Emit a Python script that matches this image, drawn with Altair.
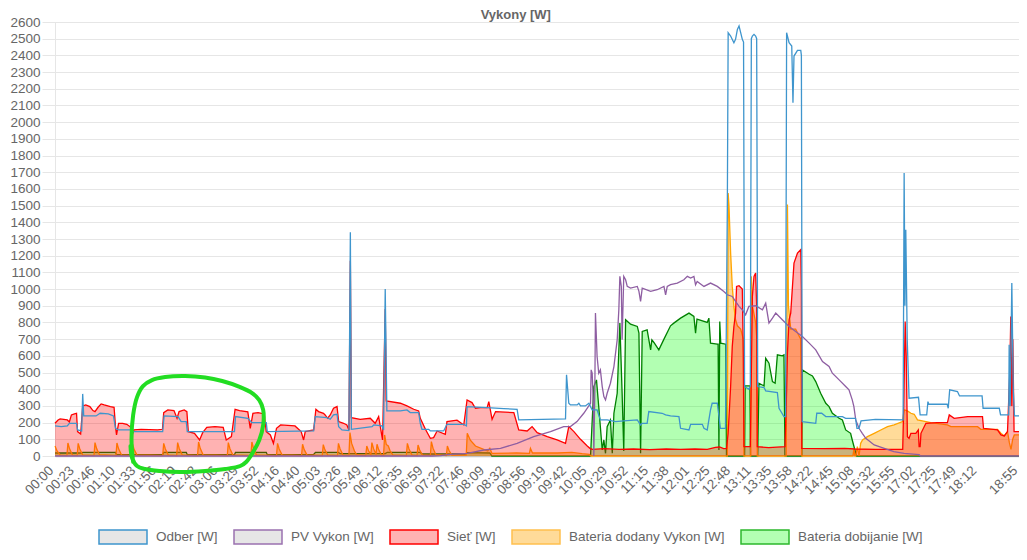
import altair as alt
import pandas as pd

# ---------------- data (x = sample index, 10 samples per axis label) ----------------
time_labels = ["00:00","00:23","00:46","01:10","01:33","01:56","02:19","02:42","03:06","03:29",
               "03:52","04:16","04:40","05:03","05:26","05:49","06:12","06:35","06:59","07:22",
               "07:46","08:09","08:32","08:56","09:19","09:42","10:05","10:29","10:52","11:15",
               "11:38","12:01","12:25","12:48","13:11","13:35","13:58","14:22","14:45","15:08",
               "15:32","15:55","17:02","17:25","17:49","18:12"]
last_label = "18:55"
last_index = 470

odber = [(0,180),(3,176),(6,180),(7,196),(10.5,196),(11,156),(13,150),(13.5,372),(14,240),(20,240),
         (22,256),(26,252),(28.5,240),(29.5,166),(31,156),(37,156),(38,146),(52.5,146),(53.2,240),(60,236),
         (61.5,206),(64,206),(64.5,146),(87.5,146),(88,236),(94,226),(96,200),(103,200),(103.5,146),(126.1,150),
         (126.9,236),(132.6,230),(134.2,220),(135.8,246),(137.5,250),(138.3,176),(139.9,156),(143.3,152),(144,1340),(144.5,160),
         (154.6,176),(155.4,186),(159.4,180),(160.2,156),(161,1000),(161.8,270),(168.4,270),(171.6,276),(173.2,260),(177.3,260),
         (178.1,196),(178.9,160),(182.2,160),(183,150),(189.5,150),(191.1,190),(199.3,190),(200.6,180),(200.9,296),(210.7,290),
         (218.8,284),(225.3,280),(226.1,216),(248.9,222),(249.4,486),(250.5,316),(251.3,306),(254.6,306),(255.4,316),(256.2,300),
         (258.6,300),(260.3,316),(261.1,296),(261.9,276),(264.3,276),(265.9,216),(269.2,216),(273.3,206),(277.3,210),(283.9,216),
         (285.5,186),(286.3,196),(288.7,196),(289.5,266),(296,256),(297.7,246),(300.1,240),(304.2,236),(305,166),(309.1,156),
         (309.9,190),(315.6,190),(316.4,166),(318,156),(319.6,276),(320.4,316),(322.9,316),(323.7,240),(324.4,166),(326.9,166),
         (327.8,1500),(328.2,2536),(329.4,2516),(331,2476),(331.8,2496),(332.7,2556),(333.5,2576),(334.3,2536),(335.1,2496),(335.7,2480),
         (336.2,416),(338.3,400),(339,420),(339.5,2500),(340,2516),(340.8,2526),(341.6,2516),(342.1,2500),(342.6,416),(345.7,410),
         (346.5,390),(352.2,380),(353,286),(355.4,236),(356.2,236),(356.7,2536),(357.9,2476),(359.2,2456),(359.8,2116),(360.3,2396),
         (362,2430),(363.6,2430),(363.9,2400),(364.3,206),(370.9,196),(371.4,256),(373.8,256),(375.8,236),(383.9,236),(385.5,226),
         (390.3,226),(391,166),(392,166),(393,210),(400,220),(413.5,216),(414,1696),(414.4,900),(414.8,1356),(415.5,700),
         (416.4,346),(421,352),(421.8,246),(425,246),(425.6,326),(426,310),(435,310),(435.5,286),(436.2,396),(440,386),
         (441,360),(452,360),(452.5,286),(460.4,286),(461,246),(465,246),(465.2,666),(465.7,300),(466.5,1036),(467.2,400),
         (467.8,240),(470,240)]

pv_vykon = [(0,0),(184,0),(188,2),(192.8,10),(201,16),(209.1,36),(217.2,46),(225.3,76),(233.4,116),(241.6,146),
            (248,176),(251.3,176),(254.5,206),(257.8,256),(261.1,316),(261.4,516),(261.9,496),(262.5,300),(262.7,0),(263.2,400),
            (263.5,856),(264.3,596),(265.1,496),(265.9,516),(266.8,416),(267.6,356),(268.4,336),(269.2,376),(270.8,436),(272.5,536),
            (273.3,616),(274.1,696),(274.9,876),(275.4,1076),(276.1,1016),(276.5,696),(277.3,1076),(278.2,1056),(279,1016),(280.6,1006),
            (283.9,1016),(284.7,986),(285.5,926),(286.3,1006),(290.4,986),(293.6,996),(296.9,1016),(297.7,966),(298.5,1016),(300.1,1026),
            (303.4,1036),(306.6,1056),(308.3,1076),(309.9,1066),(311.5,1076),(312.3,1026),(313.1,1046),(316.4,1016),(319.6,1036),(322.9,1016),
            (326.1,986),(327.8,966),(330.2,956),(331.8,926),(333.5,896),(335.1,876),(336.7,846),(338.3,896),(341.6,900),(344.9,876),
            (346.5,916),(348.1,796),(349.8,826),(351.4,856),(354.6,816),(357.9,776),(361.1,746),(364.4,716),(367.7,676),(370.9,636),
            (374.2,566),(377.4,536),(379,496),(382.3,456),(385.5,416),(387.1,396),(388.7,336),(389.5,296),(390.4,216),(392,166),
            (393.6,136),(395.3,106),(399.4,66),(404.3,46),(409,26),(414,16),(421.3,8),(422,0),(470,0)]

siet = [(0,196),(1.5,216),(2.5,222),(6,216),(7,204),(8,246),(9.5,252),(10.5,256),(11,146),(12.5,132),
        (13.5,300),(15,306),(17,296),(18.5,272),(19.5,266),(21,292),(22.5,312),(24,306),(27,296),(28.8,292),
        (29.5,176),(30,126),(31,196),(33,196),(35,190),(37,172),(37.8,132),(38.5,156),(42,160),(50,156),
        (52.4,160),(53,260),(55,276),(58,272),(59.5,226),(60.5,266),(63,276),(64.3,266),(65,146),(68,136),
        (70.5,96),(72,140),(74,172),(78,176),(82,172),(83.5,96),(86,116),(87.8,280),(90,272),(94,264),
        (95.2,166),(96.5,256),(99,260),(102,252),(103,146),(105,126),(106.5,76),(108,166),(110,186),(117,180),
        (120,146),(121.2,96),(122,146),(126.1,156),(127.2,280),(128.5,266),(130.9,256),(131.7,246),(132.9,226),(134.2,246),
        (135.8,286),(137.5,296),(138.3,206),(140.7,196),(142.3,186),(143.3,156),(144,1170),(144.5,230),(148.8,220),(153.7,226),
        (156.1,196),(157.8,236),(158.6,176),(159.7,96),(161,880),(161.5,330),(168.4,316),(171.6,300),(174.9,280),(177.3,270),
        (178.1,226),(180.6,160),(183,106),(184.6,110),(186.3,150),(190.3,130),(191.1,206),(196,215),(199.3,186),(200.9,336),
        (203.3,320),(205,286),(207.4,290),(210.7,290),(211.5,326),(213.1,220),(214.8,266),(223.7,260),(226.1,156),(230.2,150),
        (232.6,176),(235.1,140),(240,116),(244.8,96),(248.9,76),(250.5,176),(253,146),(256.2,100),(259.5,60),(260.8,46),
        (262,40),(268,44),(275,40),(282,42),(290,38),(298,42),(305,40),(312,42),(318,40),(322,52),
        (324,54),(326,44),(327.4,46),(328.2,136),(329.4,416),(330.2,656),(331,776),(331.8,856),(332.3,1016),(333.5,1020),
        (335.1,1000),(335.6,600),(335.9,56),(339,56),(339.5,500),(340,956),(340.8,1076),(341.6,1096),(342.1,900),(342.4,56),
        (348,50),(355.9,56),(356.7,400),(357.1,616),(357.9,816),(358.7,856),(360.3,1156),(362,1216),(363.6,1236),(363.9,1000),
        (364.1,46),(375,44),(385,46),(390,42),(400,40),(413.3,40),(413.8,300),(414.5,806),(415,600),(415.6,116),
        (416.4,106),(417.3,136),(419.7,136),(420.9,156),(421.3,56),(421.8,56),(422.2,136),(424.6,196),(430,200),(435.1,200),
        (436,246),(438.4,226),(445,236),(452.2,236),(452.7,166),(459.5,156),(461.2,126),(462.8,120),(464.4,146),(465.5,500),
        (466,836),(466.5,300),(467,700),(467.6,146),(470,146)]

bateria_dodany = [(0,60),(1,30),(2.5,6),(5.8,3),(6.3,78),(7.1,43),(8.5,7),(10.8,3),(11.3,76),(12.1,42),
                  (13.5,7),(19,3),(19.5,80),(20.3,44),(21.7,8),(29.7,3),(30.2,78),(31,43),(32.4,7),(37.3,3),
                  (37.8,70),(38.6,38),(40,6),(52.5,3),(53,76),(53.8,42),(55.2,7),(59.3,3),(59.8,80),(60.6,44),
                  (62,7),(69.5,3),(70,84),(70.8,46),(72.2,7),(84,3),(84.5,80),(85.3,44),(86.7,7),(95.5,3),
                  (96,84),(96.8,46),(98.2,7),(108,3),(108.5,76),(109.3,42),(110.7,7),(120.2,3),(120.7,70),(121.5,38),
                  (122.9,6),(130.3,3),(130.8,68),(131.6,37),(133,6),(137.7,3),(138.2,76),(139,42),(140.4,7),(143.3,3),
                  (143.8,140),(144.6,77),(146,30),(147,8),(151.5,3),(152,60),(152.8,33),(154,8),(154.5,80),(155.3,44),
                  (156.5,10),(157,70),(157.8,38),(159.2,6),(160.2,3),(160.7,126),(161.5,69),(162.5,60),(163.3,33),(164.7,7),
                  (171.3,3),(171.8,76),(172.6,42),(174,7),(176.5,3),(177,66),(177.8,36),(179.2,6),(183,3),(183.5,86),
                  (184.3,47),(185.7,8),(190.8,3),(191.3,60),(192.1,33),(193.5,6),(200.5,5),(201,136),(202.5,95),(205,60),
                  (209,40),(211,30),(212,46),(213,16),(225,18),(231.3,16),(231.8,46),(232.8,18),(245,18),(252,22),
                  (257,14),(260.5,10),(261.2,0),(327.8,0),(328.2,1576),(328.6,1500),(329.4,1216),(330.2,1016),(331,896),(331.8,816),
                  (332.7,780),(334.3,760),(335.6,700),(335.9,0),(339.2,0),(339.5,1076),(340,900),(341.6,800),(342.2,700),(342.4,0),
                  (356.5,0),(357.1,1506),(357.6,900),(358.7,760),(361.1,760),(363.6,700),(364.1,0),(389,0),(389.5,40),(390,0),
                  (390.4,0),(391.2,56),(392,0),(392.8,76),(393.7,96),(396.1,116),(399.4,136),(402.6,156),(405.9,176),(409.1,186),
                  (413.2,206),(414,276),(415.6,270),(417.3,256),(418.9,250),(420.5,216),(427,200),(435.1,186),(436.8,176),(449.8,176),
                  (451.4,160),(459.5,160),(461.2,136),(462.8,120),(464.4,146),(465.3,80),(466.1,40),(466.9,100),(467.7,126),(470,126)]

bateria_dobijanie = [(0,18),(13,18),(13.5,22),(29.5,22),(30,8),(52.5,8),(53,22),(64,22),(64.5,8),(87.5,8),
                     (88,22),(103,22),(103.5,8),(126,8),(127,22),(138,22),(139,14),(161,14),(162,22),(178,22),
                     (179,12),(200,12),(201,20),(212,18),(213,0),(261.1,0),(262.7,416),(264,456),(265.1,296),(266.8,36),
                     (267.6,96),(268.4,16),(269.2,176),(270.8,216),(271.7,16),(272.5,256),(274.1,376),(275.4,796),(276.5,376),(277.3,30),
                     (278.2,816),(280.6,790),(283.9,776),(284.7,736),(285.5,16),(286.3,746),(288.7,756),(290.4,636),(291,696),(292,680),
                     (294.4,636),(296.9,700),(300.1,780),(301.7,796),(305,826),(309.1,856),(311.5,836),(312.3,736),(313,820),(318,800),
                     (318.8,826),(319.6,676),(322.9,670),(323.3,670),(323.7,36),(324.1,806),(324.6,676),(327,670),(327.4,0),(336.2,0),
                     (336.5,420),(338.8,420),(339.1,0),(342.6,0),(343.2,436),(345.7,420),(346.5,586),(348.1,556),(349.8,446),(351.1,436),
                     (352.2,606),(354.6,600),(355.4,606),(355.9,0),(364.1,0),(364.4,516),(367.7,490),(369.3,480),(370.9,446),(373.3,376),
                     (375.8,316),(377.4,296),(379,256),(382.3,226),(383.9,216),(385.5,156),(387.9,136),(388.7,96),(390,36),(390.8,0),
                     (470,0)]

# hand-drawn green ring annotation (sample index, W)
ring = [(38.1,-36),(37.3,96),(38.1,246),(40,353),(42.9,419),(47.3,455),(53.7,473),(63.4,479),(73.2,470),(81.5,449),
        (90.3,413),(96.1,377),(99.6,335),(101.5,276),(101.5,186),(99.6,96),(96.6,24),(93.2,-36),(90.3,-60),(83,-78),
        (73.2,-90),(61,-96),(51.2,-90),(43.9,-78),(40,-60),(37.6,-12),(36.8,60)]

series_names = ["Odber [W]", "PV Vykon [W]", "Sieť [W]", "Bateria dodany Vykon [W]", "Bateria dobijanie [W]"]
legend_fills = ["#e6e6e6", "#e6e6e6", "#ffb3b3", "#ffdb99", "#b3ffb3"]
legend_strokes = ["#3e95cd", "#9b72b0", "#ff0000", "#ffc04d", "#2db82d"]

# ---------------- chart ----------------
FONT = "Liberation Sans"
LABEL_COL = "#666666"

def frame(pairs):
    return pd.DataFrame(pairs, columns=["s", "v"])

label_array = time_labels + [""] * (last_index // 10 - len(time_labels)) + [last_label]
label_expr = "[" + ",".join("'" + t + "'" for t in label_array) + "][round(datum.value / 10)]"
tick_vals = [i * 10 for i in range(len(time_labels))] + [last_index]

X = alt.X("s:Q",
          scale=alt.Scale(domain=[0, last_index], nice=False, zero=False),
          axis=alt.Axis(values=tick_vals, labelExpr=label_expr, labelAngle=-45, labelAlign="right",
                        labelBaseline="middle", labelPadding=12, labelOffset=-4, labelFontSize=13.5,
                        labelColor=LABEL_COL, labelFont=FONT, labelOverlap=False, labelFlush=False,
                        grid=False, ticks=False, domainColor="#c4c4c4", domainWidth=1.5, title=None))
Y = alt.Y("v:Q",
          scale=alt.Scale(domain=[0, 2600], nice=False, zero=True),
          axis=alt.Axis(values=list(range(0, 2601, 100)), format="d", grid=True, gridColor="#e6e6e6",
                        gridWidth=1, tickColor="#e6e6e6", tickSize=13, domainColor="#e6e6e6", labelPadding=2,
                        labelFontSize=13.5, labelColor=LABEL_COL, labelFont=FONT, labelOverlap=False,
                        title=None))

def area(pairs, color, op):
    return alt.Chart(frame(pairs)).mark_area(color=color, opacity=op, interpolate="linear").encode(x=X, y=Y)

def line(pairs, color):
    return alt.Chart(frame(pairs)).mark_line(color=color, strokeWidth=1.3, interpolate="linear").encode(x=X, y=Y)

box_path = "M-1,-0.29L1,-0.29L1,0.29L-1,0.29Z"
leg = alt.Legend(title=None, orient="none", legendX=43, legendY=490, direction="horizontal",
                 symbolType=box_path, symbolSize=2304, symbolStrokeWidth=1.5, symbolOpacity=1,
                 labelFontSize=13.5, labelColor=LABEL_COL, labelFont=FONT, labelOffset=8,
                 columnPadding=13, labelLimit=0, padding=0)
legend_df = pd.DataFrame({"name": series_names, "s": [0] * 5, "v": [0] * 5})
legend_layer = alt.Chart(legend_df).mark_point(shape=box_path, filled=True, opacity=0, size=2304).encode(
    x=X, y=Y,
    fill=alt.Fill("name:N", scale=alt.Scale(domain=series_names, range=legend_fills), legend=leg),
    stroke=alt.Stroke("name:N", scale=alt.Scale(domain=series_names, range=legend_strokes), legend=leg),
)

ring_df = pd.DataFrame(ring, columns=["s", "v"])
ring_df["i"] = range(len(ring_df))
ring_layer = alt.Chart(ring_df).mark_line(color="#22dd22", strokeWidth=4, interpolate="catmull-rom",
                                          strokeCap="round", strokeJoin="round", clip=False).encode(
    x=X, y=Y, order="i:Q")

chart = alt.layer(
    area(bateria_dobijanie, "#00ff00", 0.3),
    line(bateria_dobijanie, "#008000"),
    area(bateria_dodany, "#ffa500", 0.4),
    line(bateria_dodany, "#ffa500"),
    area(siet, "#ff0000", 0.3),
    line(siet, "#ff0000"),
    line(pv_vykon, "#8e5ea2"),
    line(odber, "#3e95cd"),
    legend_layer,
    ring_layer,
).properties(
    width=964, height=434,
    title=alt.TitleParams("Vykony [W]", fontSize=13, fontWeight="bold", color=LABEL_COL, font=FONT,
                          anchor="middle", frame="bounds", offset=-7),
    padding={"left": 47, "top": 14, "right": 0, "bottom": 96},
    autosize=alt.AutoSizeParams(type="none"),
).configure_view(stroke=None).configure(background="white")

chart.save("out.html", embed_options={"renderer": "svg", "actions": False})
